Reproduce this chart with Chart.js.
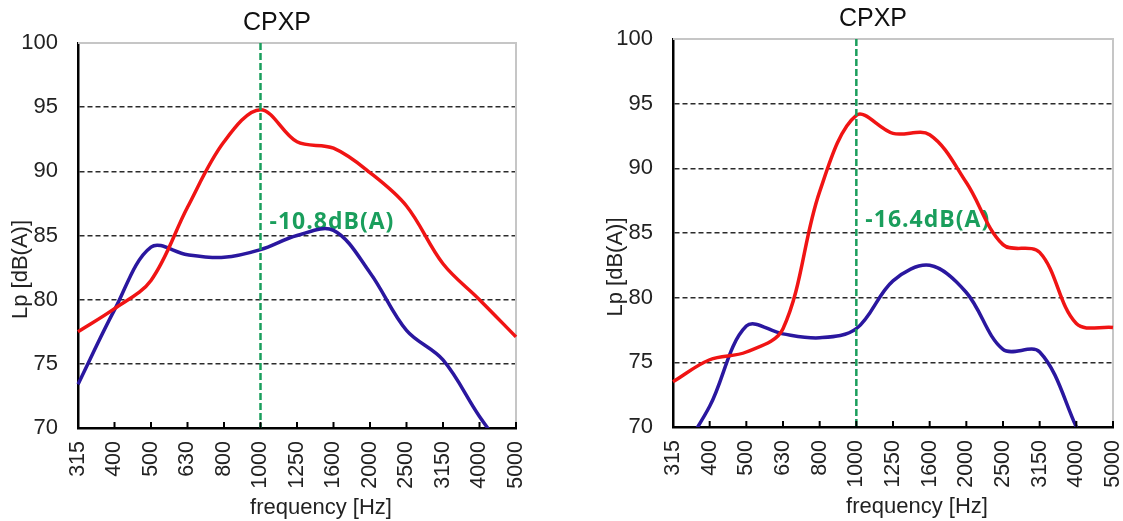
<!DOCTYPE html>
<html>
<head>
<meta charset="utf-8">
<script src="https://cdn.jsdelivr.net/npm/chart.js@4.4.1/dist/chart.umd.min.js"></script>
<style>
  html, body { margin: 0; padding: 0; background: #ffffff; }
  body { width: 1123px; height: 521px; position: relative; overflow: hidden; }
  canvas { position: absolute; top: 0; }
  #left { left: 0; }
  #right { left: 560px; }
</style>
</head>
<body>
<canvas id="left" width="560" height="521"></canvas>
<canvas id="right" width="600" height="521"></canvas>
<script>
// One-third octave band centre frequencies [Hz]
const bands = ['315', '400', '500', '630', '800', '1000', '1250', '1600', '2000', '2500', '3150', '4000', '5000'];

// Sound pressure levels Lp [dB(A)] per band
const leftRed  = [77.5, 79.3, 81.5, 87.2, 92.3, 94.8, 92.3, 91.8, 89.9, 87.3, 82.8, 80.0, 77.1];
const leftBlue = [73.4, 79.2, 84.1, 83.5, 83.3, 83.9, 85.0, 85.4, 82.1, 77.6, 75.3, 70.9, 67.0];
const rightRed  = [73.5, 75.2, 75.8, 77.6, 88.2, 94.1, 92.7, 92.6, 88.9, 84.1, 83.5, 78.0, 77.7];
const rightBlue = [67.0, 71.6, 77.8, 77.2, 76.9, 77.6, 81.3, 82.5, 80.4, 76.0, 75.8, 70.0, 63.5];

// Reduction notes and the band they refer to
const leftNote = '-10.8dB(A)';
const rightNote = '-16.4dB(A)';
const markBand = '1000';

// Axis range and ticks
const yMin = 70, yMax = 100, yStep = 5;

const chartTitle = 'CPXP';
const xTitle = 'frequency [Hz]';
const yTitle = 'Lp [dB(A)]';

const RED = '#f01414';
const BLUE = '#2a179f';
const GREEN = '#1a9e5c';
const TEXT = '#222222';
const FONT = '"Liberation Sans", Arial, Helvetica, sans-serif';

Chart.defaults.font.family = FONT;
Chart.defaults.color = TEXT;

// Frame, inner ticks, marker line, note and titles
const decor = {
  id: 'decor',
  beforeDatasetsDraw(chart, args, o) {
    const { ctx, chartArea: a, scales: { x, y } } = chart;
    ctx.save();
    // light frame on top and right
    ctx.strokeStyle = '#c6c6c6';
    ctx.lineWidth = 2;
    ctx.beginPath();
    ctx.moveTo(a.left, a.top);
    ctx.lineTo(a.right, a.top);
    ctx.lineTo(a.right, a.bottom);
    ctx.stroke();
    // note text
    const px = x.getPixelForValue(bands.indexOf(o.band));
    ctx.fillStyle = GREEN;
    ctx.font = 'bold 23px "Open Sans", sans-serif';
    if ('letterSpacing' in ctx) ctx.letterSpacing = '1px';
    ctx.textAlign = 'left';
    ctx.textBaseline = 'alphabetic';
    ctx.fillText(o.note, px + o.dx, y.getPixelForValue(o.noteAt));
    ctx.restore();
  },
  afterDatasetsDraw(chart, args, o) {
    const { ctx, chartArea: a, scales: { x } } = chart;
    ctx.save();
    // vertical marker
    const px = x.getPixelForValue(bands.indexOf(o.band));
    ctx.strokeStyle = GREEN;
    ctx.lineWidth = 2.5;
    ctx.setLineDash([7, 3]);
    ctx.beginPath();
    ctx.moveTo(px, a.top);
    ctx.lineTo(px, a.bottom);
    ctx.stroke();
    ctx.setLineDash([]);
    // inward tick marks on the frequency axis
    ctx.strokeStyle = '#000';
    ctx.lineWidth = 2;
    x.ticks.forEach((t, i) => {
      const tx = x.getPixelForTick(i);
      ctx.beginPath();
      ctx.moveTo(tx, a.bottom);
      ctx.lineTo(tx, a.bottom - 6);
      ctx.stroke();
    });
    ctx.restore();
  },
  afterDraw(chart) {
    const { ctx, chartArea: a } = chart;
    const cx = (a.left + a.right) / 2;
    const cy = (a.top + a.bottom) / 2;
    ctx.save();
    ctx.fillStyle = '#111';
    ctx.textAlign = 'center';
    ctx.textBaseline = 'middle';
    ctx.font = '25px ' + FONT;
    ctx.fillText(chartTitle, cx - 20, a.top - 20);
    ctx.fillStyle = TEXT;
    ctx.font = '22px ' + FONT;
    ctx.fillText(xTitle, cx + 24, a.bottom + 80);
    ctx.translate(a.left - 57, cy + 34);
    ctx.rotate(-Math.PI / 2);
    ctx.fillText(yTitle, 0, 0);
    ctx.restore();
  }
};

function makeChart(id, red, blue, note, geom) {
  return new Chart(document.getElementById(id), {
    type: 'line',
    data: {
      labels: bands,
      datasets: [
        { data: red, borderColor: RED, borderWidth: 3.5 },
        { data: blue, borderColor: BLUE, borderWidth: 3.5 }
      ]
    },
    options: {
      responsive: false,
      animation: false,
      events: [],
      layout: {
        autoPadding: false,
        padding: { left: 0, right: geom.right, top: geom.top, bottom: 0 }
      },
      elements: {
        point: { radius: 0 },
        line: { tension: 0.35, capBezierPoints: false, fill: false }
      },
      plugins: {
        legend: { display: false },
        title: { display: false },
        tooltip: { enabled: false },
        decor: { band: markBand, note: note, noteAt: 85.5, dx: 9 }
      },
      scales: {
        x: {
          type: 'category',
          offset: false,
          afterFit: s => { s.height = geom.xh; },
          grid: { display: false, drawTicks: false },
          border: { display: true, color: '#000', width: 2.5 },
          ticks: {
            autoSkip: false, minRotation: 90, maxRotation: 90,
            padding: 13, color: TEXT, font: { size: 21.5 }
          }
        },
        y: {
          min: yMin, max: yMax,
          afterFit: s => { s.width = geom.yw; },
          grid: {
            drawTicks: false,
            lineWidth: 1.5,
            color: c => (c.tick && (c.tick.value === yMin || c.tick.value === yMax)) ? 'rgba(0,0,0,0)' : '#2b2b2b'
          },
          border: { display: true, color: '#000', width: 2.5, dash: [5, 3] },
          ticks: { stepSize: yStep, padding: 20, color: TEXT, font: { size: 22 } }
        }
      }
    },
    plugins: [decor]
  });
}

makeChart('left', leftRed, leftBlue, leftNote, { right: 44, top: 43, xh: 93, yw: 78 });
makeChart('right', rightRed, rightBlue, rightNote, { right: 47, top: 39, xh: 94, yw: 113 });
</script>
</body>
</html>
